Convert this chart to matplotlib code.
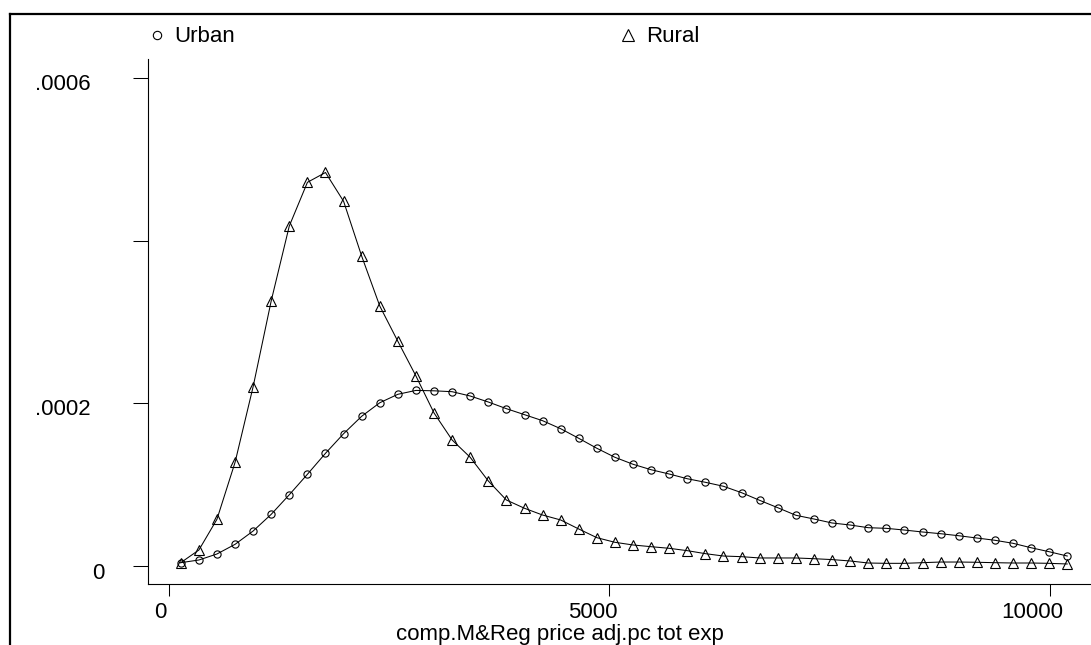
import matplotlib
matplotlib.use('Agg')
import matplotlib.pyplot as plt
from matplotlib.lines import Line2D
from matplotlib.transforms import ScaledTranslation

plt.rcParams['font.family'] = ['Liberation Sans', 'DejaVu Sans']

# evaluation grid of the density estimates
exp_grid = [130, 336, 541, 747, 952, 1158, 1363, 1569, 1774, 1980,
            2185, 2391, 2596, 2802, 3007, 3213, 3418, 3624, 3829, 4035,
            4240, 4446, 4651, 4857, 5062, 5268, 5473, 5679, 5884, 6090,
            6295, 6501, 6706, 6912, 7117, 7323, 7528, 7734, 7939, 8145,
            8350, 8556, 8761, 8967, 9172, 9378, 9583, 9789, 9994, 10200]

# densities, in units of 1e-4
urban_e4 = [0.036, 0.069, 0.143, 0.262, 0.426, 0.632, 0.873, 1.125, 1.383, 1.625,
            1.839, 2.006, 2.110, 2.158, 2.153, 2.142, 2.089, 2.015, 1.933, 1.859,
            1.785, 1.686, 1.568, 1.445, 1.334, 1.248, 1.181, 1.128, 1.070, 1.026,
            0.977, 0.898, 0.804, 0.713, 0.620, 0.574, 0.525, 0.500, 0.467, 0.459,
            0.438, 0.414, 0.393, 0.368, 0.340, 0.312, 0.275, 0.220, 0.171, 0.118]
rural_e4 = [0.036, 0.192, 0.570, 1.272, 2.203, 3.263, 4.183, 4.721, 4.842, 4.487,
            3.813, 3.197, 2.763, 2.335, 1.880, 1.547, 1.334, 1.042, 0.808, 0.706,
            0.623, 0.562, 0.451, 0.344, 0.287, 0.254, 0.233, 0.213, 0.184, 0.147,
            0.118, 0.110, 0.094, 0.094, 0.094, 0.085, 0.074, 0.057, 0.032, 0.028,
            0.028, 0.036, 0.044, 0.044, 0.041, 0.036, 0.032, 0.032, 0.028, 0.020]

urban = [v * 1e-4 for v in urban_e4]
rural = [v * 1e-4 for v in rural_e4]

y_ticks = [0, 0.0002, 0.0004, 0.0006]
y_tick_labels = ['0', '.0002', '', '.0006']
x_ticks = [0, 5000, 10000]
x_tick_labels = ['0', '5000', '10000']

W, H = 1091, 645
fig = plt.figure(figsize=(W / 100, H / 100), dpi=100)
ax = fig.add_axes([148 / W, 1 - 584 / H, 1 - 148 / W, (584 - 59) / H])

ax.plot(exp_grid, urban, color='black', lw=0.75, marker='o', ms=5.2,
        mfc='none', mec='black', mew=0.8)
ax.plot(exp_grid, rural, color='black', lw=0.75, marker='^', ms=7.5,
        mfc='none', mec='black', mew=0.8)

ax.set_xlim(-242, 10470)
ax.set_ylim(-2.266e-5, 6.24e-4)
for s in ['top', 'right']:
    ax.spines[s].set_visible(False)
for s in ['left', 'bottom']:
    ax.spines[s].set_linewidth(0.8)

ax.set_yticks(y_ticks)
ax.set_yticklabels(y_tick_labels)
ax.set_xticks(x_ticks)
ax.set_xticklabels(x_tick_labels)
ax.tick_params(axis='y', length=10.5, width=0.75, pad=31, labelsize=16)
ax.tick_params(axis='x', length=8.6, width=0.75, pad=4, labelsize=16)

# per-label shifts (pixels) to follow the original placement
px = 72 / 100
y_shift = {'0': (14, -5), '.0002': (0, -4), '.0006': (0, -4)}
for lab in ax.get_yticklabels():
    dx, dy = y_shift.get(lab.get_text(), (0, 0))
    lab.set_transform(lab.get_transform() +
                      ScaledTranslation(dx * px / 72, dy * px / 72, fig.dpi_scale_trans))
x_shift = {'0': -9, '5000': -17, '10000': -17}
for lab in ax.get_xticklabels():
    dx = x_shift.get(lab.get_text(), 0)
    lab.set_transform(lab.get_transform() +
                      ScaledTranslation(dx * px / 72, 0, fig.dpi_scale_trans))

ax.set_xlabel('comp.M&Reg price adj.pc tot exp', fontsize=16)
ax.xaxis.set_label_coords((560 - 148) / (W - 148), (584 - 624) / (584 - 59))

# legend along the top
fig.text(174 / W, 1 - 36 / H, 'Urban', fontsize=16, va='center')
fig.text(646 / W, 1 - 36 / H, 'Rural', fontsize=16, va='center')
fig.add_artist(Line2D([157 / W], [1 - 35 / H], marker='o', ms=6, mfc='none',
                      mec='black', mew=0.8, transform=fig.transFigure))
fig.add_artist(Line2D([628 / W], [1 - 35 / H], marker='^', ms=8, mfc='none',
                      mec='black', mew=0.8, transform=fig.transFigure))

# outer frame
fig.add_artist(Line2D([9.8 / W, 9.8 / W], [0, 1 - 14 / H], color='black', lw=1.6,
                      transform=fig.transFigure))
fig.add_artist(Line2D([9.8 / W, 1], [1 - 14 / H, 1 - 14 / H], color='black', lw=1.6,
                      transform=fig.transFigure))

fig.savefig('out.png', dpi=100)
